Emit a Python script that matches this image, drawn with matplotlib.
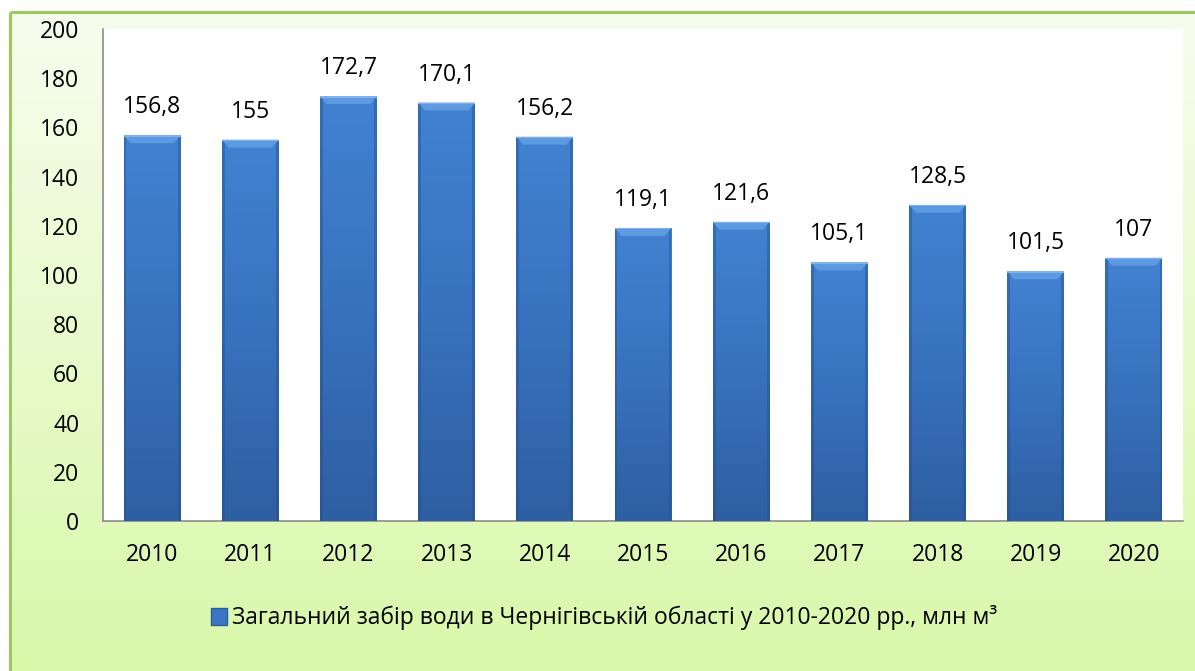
import numpy as np
import matplotlib
matplotlib.use('Agg')
import matplotlib.pyplot as plt
from matplotlib.colors import LinearSegmentedColormap
from matplotlib.patches import Rectangle, Polygon

years = ['2010', '2011', '2012', '2013', '2014', '2015', '2016', '2017', '2018', '2019', '2020']
values = [156.8, 155, 172.7, 170.1, 156.2, 119.1, 121.6, 105.1, 128.5, 101.5, 107]
labels = ['156,8', '155', '172,7', '170,1', '156,2', '119,1', '121,6', '105,1', '128,5', '101,5', '107']
legend_text = 'Загальний забір води в Чернігівській області у 2010-2020 рр., млн м³'

plt.rcParams['font.family'] = ['Open Sans', 'DejaVu Sans']
FS = 16.5

W, H = 1195, 671
fig = plt.figure(figsize=(W / 100, H / 100), dpi=100)
fig.patch.set_facecolor('white')

# background panel with light green gradient
bg = fig.add_axes([0, 0, 1, 1])
bg.set_xlim(0, W)
bg.set_ylim(H, 0)
bg.axis('off')
bg_cmap = LinearSegmentedColormap.from_list('bg', ['#f7fdee', '#d9f8a9'])
grad = np.linspace(0, 1, 256).reshape(-1, 1)
bg.imshow(grad, cmap=bg_cmap, extent=[10, W + 5, H + 5, 12], aspect='auto', zorder=0)
bg.add_patch(Rectangle((10, 12), W, H, fill=False, edgecolor='#9cc95d', lw=2.2, zorder=1))

# plot area
left, right, top, bottom = 103, 1183, 29, 521
ax = fig.add_axes([left / W, 1 - bottom / H, (right - left) / W, (bottom - top) / H])
ax.set_facecolor('white')
x = np.arange(len(years))
bars = ax.bar(x, values, width=0.58, color='#3a76c4', zorder=2)

bar_cmap = LinearSegmentedColormap.from_list('bar', ['#2e5fa2', '#3872be', '#4182d0'])
bevel = 3.2
for b in bars:
    x0, w, h = b.get_x(), b.get_width(), b.get_height()
    img = ax.imshow(np.linspace(0, 1, 64).reshape(-1, 1), cmap=bar_cmap,
                    extent=[x0, x0 + w, 0, h], aspect='auto', origin='lower', zorder=3)
    img.set_clip_path(b)
    # darker sides
    ax.add_patch(Rectangle((x0, 0), w * 0.05, h, facecolor='#244d85', alpha=0.4, edgecolor='none', zorder=4))
    ax.add_patch(Rectangle((x0 + w * 0.95, 0), w * 0.05, h, facecolor='#244d85', alpha=0.4, edgecolor='none', zorder=4))
    # bevel on top
    ins = w * 0.12
    ax.add_patch(Polygon([(x0, h), (x0 + w, h), (x0 + w - ins, h - bevel), (x0 + ins, h - bevel)],
                         closed=True, facecolor='#5e9ae2', edgecolor='none', zorder=4))
    ax.add_patch(Rectangle((x0, h - 0.6), w, 0.6, facecolor='#7fb2ec', edgecolor='none', zorder=4))
ax.set_xlim(-0.5, len(years) - 0.5)
ax.set_ylim(0, 200)

for xi, v, lab in zip(x, values, labels):
    ax.text(xi, v + 6.5, lab, ha='center', va='bottom', fontsize=FS, color='black', zorder=5)

ax.set_yticks(np.arange(0, 201, 20))
ax.set_xticks(x)
ax.set_xticklabels(years)
ax.tick_params(axis='both', length=0, labelsize=FS)
ax.tick_params(axis='y', pad=17)
ax.tick_params(axis='x', pad=16)
for s in ['top', 'right']:
    ax.spines[s].set_visible(False)
ax.spines['left'].set_color('#8c8c8c')
ax.spines['bottom'].set_color('#8c8c8c')
ax.spines['left'].set_linewidth(1.2)
ax.spines['bottom'].set_linewidth(1.2)

handle = Rectangle((0, 0), 1, 1, facecolor='#3a76c4', edgecolor='#2d5d9a')
fig.legend([handle], [legend_text], loc='center', bbox_to_anchor=(604 / W, 1 - 618 / H),
           frameon=False, fontsize=FS, handlelength=0.7, handleheight=0.7, handletextpad=0.2)

fig.savefig('out.png', dpi=100)
